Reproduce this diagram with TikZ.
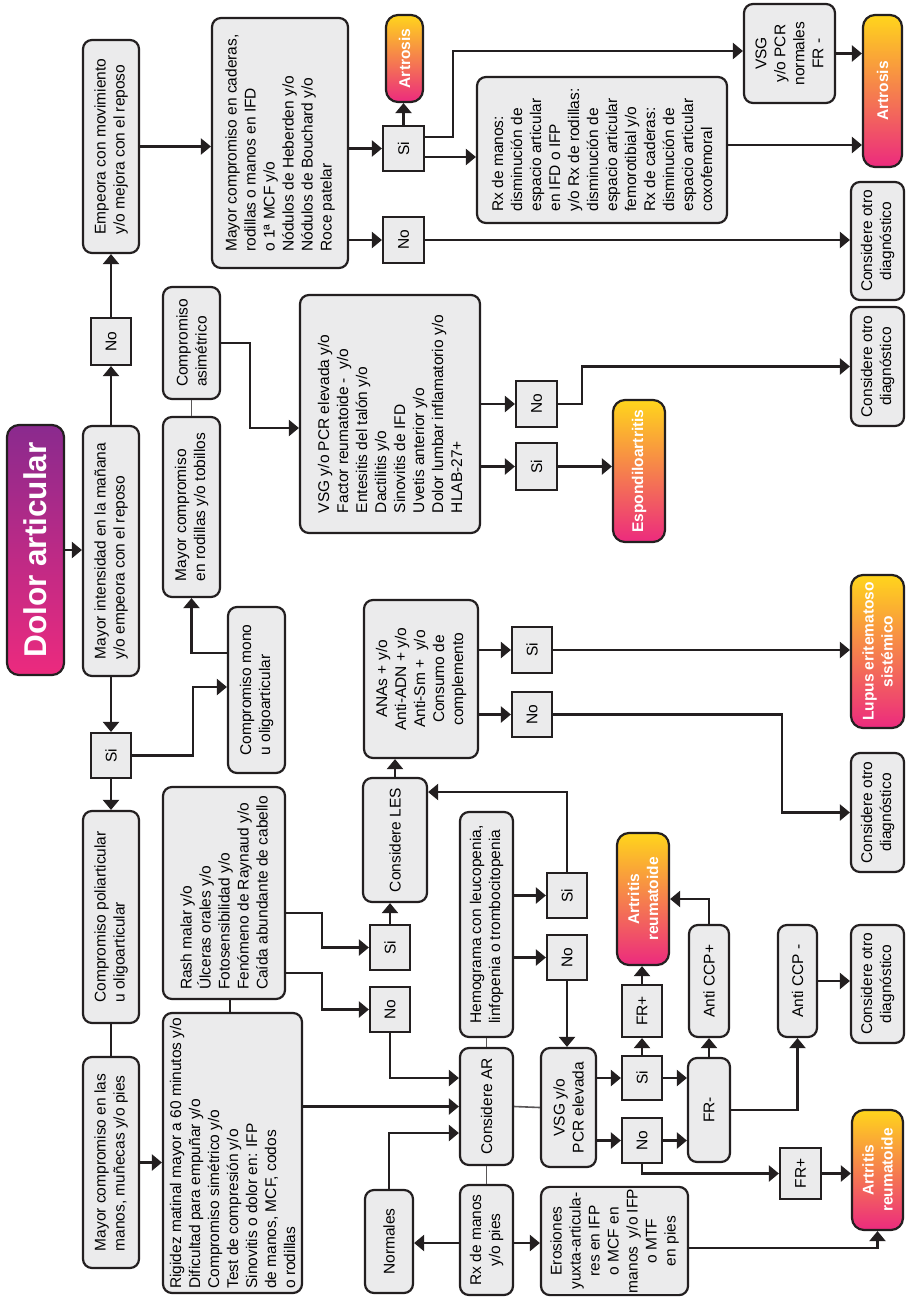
\documentclass[tikz,border=0pt]{standalone}
\usepackage{fontspec}
\setmainfont{Liberation Sans}
\usetikzlibrary{arrows.meta}
\definecolor{boxgray}{HTML}{EBEBEC}
\definecolor{ink}{HTML}{231F20}
\definecolor{dxyellow}{HTML}{FFD51C}
\definecolor{dxpink}{HTML}{EC2A7E}
\definecolor{dxpurple}{HTML}{8A2A8E}

\begin{document}
\begin{tikzpicture}[x=1pt, y=-1pt,
  font=\fontsize{15.5}{19}\selectfont,
  sz/.style 2 args={minimum width=#1pt, minimum height=#2pt},
  box/.style={draw=ink, line width=2.2pt, fill=boxgray, rounded corners=9pt, rotate=90, inner sep=2pt, align=left},
  yn/.style={draw=ink, line width=2.2pt, fill=boxgray, rotate=90, inner sep=1pt},
  dx/.style={draw=ink, line width=2.2pt, rounded corners=12pt, rotate=90, top color=dxyellow, bottom color=dxpink, text=white, font=\fontsize{15.5}{19}\bfseries, align=center, inner sep=1pt},
  arr/.style={draw=ink, line width=2.2pt, -{Triangle[length=10pt, width=16pt]}},
  link/.style={draw=ink!75, line width=1.6pt}]
  \useasboundingbox[fill=white] (0,0) rectangle (905,1297);

  % first column
  \node[dx, sz={250}{57}, top color=dxpurple, bottom color=dxpink, font=\fontsize{31.5}{35}\bfseries] (title) at (35.5,550) {Dolor articular};
  \node[box, sz={213}{56}] (empeora) at (111,146.5) {Empeora con movimiento\\y/o mejora con el reposo};
  \node[yn, sz={47}{40}] (no1) at (111,341.5) {No};
  \node[box, sz={250}{56}] (manana) at (111,551) {Mayor intensidad en la mañana\\y/o empeora con el reposo};
  \node[yn, sz={45}{40}] (si1) at (111,755.5) {Si};
  \node[box, sz={212}{56}] (poli) at (111,917) {Compromiso poliarticular\\u oligoarticular};
  \node[box, sz={211}{56}] (manos) at (111,1162.5) {Mayor compromiso en las\\manos, muñecas y/o pies};

  % second column
  \node[box, sz={112}{57}] (asim) at (191.5,343) {Compromiso\\asimétrico};
  \node[box, sz={180}{57}] (rodillas) at (191.5,507) {Mayor compromiso\\en rodillas y/o tobillos};
  \node[box, sz={166}{57}] (mono) at (256.5,690) {Compromiso mono\\u oligoarticular};
  \node[box, sz={212}{122}] (rash) at (224,893) {Rash malar y/o\\Úlceras orales y/o\\Fotosensibilidad y/o\\Fenómeno de Raynaud y/o\\Caída abundante de cabello};
  \node[box, sz={280}{139}] (rigidez) at (232.5,1153) {Rigidez matinal mayor a 60 minutos y/o\\Dificultad para empuñar y/o\\Compromiso simétrico y/o\\Test de compresión y/o\\Sinovitis o dolor en: IFP\\de manos, MCF, codos\\o rodillas};
  \node[box, sz={250}{136}] (caderas) at (280,143) {Mayor compromiso en caderas,\\rodillas o manos en IFD\\o 1ª MCF y/o\\Nódulos de Heberden y/o\\Nódulos de Bouchard y/o\\Roce patelar};

  % artrosis branch
  \node[yn, sz={45}{41}] (sib) at (403.5,148.5) {Si};
  \node[yn, sz={46}{41}] (nob) at (403.5,240) {No};
  \node[dx, sz={87}{37}] (artrosis1) at (404.5,58.5) {Artrosis};
  \node[box, sz={146}{250}] (rxmanos) at (602,150) {Rx de manos:\\disminución de\\espacio articular\\en IFD o IFP\\y/o Rx de rodillas:\\disminución de\\espacio articular\\femorotibial y/o\\Rx de caderas:\\disminución de\\espacio articular\\coxofemoral};
  \node[box, sz={99}{91}, align=center] (normales1) at (789.5,53.5) {VSG\\y/o PCR\\normales\\FR -};
  \node[dx, sz={152}{39}] (artrosis2) at (882.5,91) {Artrosis};
  \node[box, sz={118}{53}, align=center] (otro1) at (877.5,241) {Considere otro\\diagnóstico};

  % espondiloartritis branch
  \node[box, sz={238}{180}] (espa) at (390,414) {VSG y/o PCR elevada y/o\\Factor reumatoide -\ \ y/o\\Entesitis del talón y/o\\Dactilitis y/o\\Sinovitis de IFD\\Uvetis anterior y/o\\Dolor lumbar inflamatorio y/o\\HLAB-27+};
  \node[yn, sz={46}{41}] (noc) at (536.5,404) {No};
  \node[yn, sz={47}{41}] (sic) at (536.5,466.5) {Si};
  \node[box, sz={119}{53}, align=center] (otro2) at (877.5,366.5) {Considere otro\\diagnóstico};
  \node[dx, sz={142}{52}] (espondilo) at (639,471) {Espondiloartritis};

  % lupus branch
  \node[box, sz={158}{114}, align=center] (anas) at (421,679) {ANAs + y/o\\Anti-ADN + y/o\\Anti-Sm +\ \ y/o\\Consumo de\\complemento};
  \node[yn, sz={46}{40}] (sid) at (532,650) {Si};
  \node[yn, sz={45}{40}] (nod) at (532,714.5) {No};
  \node[dx, sz={153}{53}] (lupus) at (877.5,651.5) {Lupus eritematoso\\sistémico};
  \node[box, sz={119}{53}, align=center] (otro3) at (877.5,812.5) {Considere otro\\diagnóstico};
  \node[box, sz={124}{64}] (les) at (395,840) {Considere LES};
  \node[box, sz={225}{53}] (hemo) at (486.5,924.5) {Hemograma con leucopenia,\\linfopenia o trombocitopenia};
  \node[yn, sz={45}{40}] (sie) at (567,895.5) {Si};
  \node[yn, sz={45}{40}] (noe) at (567,957.5) {No};
  \node[yn, sz={45}{40}] (sif) at (390,947.5) {Si};
  \node[yn, sz={45}{40}] (nof) at (390,1009.5) {No};

  % artritis reumatoide branch
  \node[box, sz={117}{53}] (ar) at (486.5,1106.5) {Considere AR};
  \node[box, sz={119}{55}, align=center] (vsgpcr) at (568.5,1107.5) {VSG y/o\\PCR elevada};
  \node[box, sz={103}{48}] (normales) at (389,1241.5) {Normales};
  \node[box, sz={110}{53}, align=center] (rxpies) at (486.5,1240) {Rx de manos\\y/o pies};
  \node[box, sz={108}{147}, align=center] (erosiones) at (614.5,1241) {Erosiones\\yuxta-articula-\\res en IFP\\o MCF en\\manos\ \ y/o IFP\\o MTF\\en pies};
  \node[yn, sz={44}{40}] (sig) at (642,1078) {Si};
  \node[yn, sz={45}{40}] (nog) at (642,1140.5) {No};
  \node[box, sz={104}{42}] (frm) at (709,1110) {FR-};
  \node[yn, sz={52}{40}] (frp1) at (642,1011) {FR+};
  \node[dx, sz={132}{52}] (ar1) at (643,899) {Artritis\\reumatoide};
  \node[box, sz={112}{40}] (ccpp) at (709,981) {Anti CCP+};
  \node[box, sz={112}{39}] (ccpm) at (797.5,981) {Anti CCP -};
  \node[box, sz={118}{53}, align=center] (otro4) at (877.5,984) {Considere otro\\diagnóstico};
  \node[yn, sz={51}{41}] (frp2) at (800.5,1173.5) {FR+};
  \node[dx, sz={120}{51}] (ar2) at (877.5,1170) {Artritis\\reumatoide};

  % connectors
  \draw[arr] (title.south) -- (title.south -| manana.north);
  \draw[arr] (manana.east) -- (no1.west);
  \draw[arr] (no1.east) -- (empeora.west);
  \draw[arr] (manana.west) -- (si1.east);
  \draw[arr] (si1.west) -- (poli.east);
  \draw[link, ink, line width=2pt] (poli.west) -- (manos.east);
  \draw[arr] (manos.south) -- (manos.south -| rigidez.north);
  \draw[arr] (si1.south) -| (193,687) -- (mono.north |- 0,687);
  \draw[arr] (mono.north |- 0,653) -| (rodillas.west);
  \draw[link] (rodillas.east) -- (asim.west);
  \draw[arr] (asim.south) -| (250,428) -- (espa.north |- 0,428);
  \draw[link, ink, line width=2pt] (rash.west -| 230,0) -- (rigidez.east -| 230,0);

  \draw[arr] (empeora.south) -- (empeora.south -| caderas.north);
  \draw[arr] (sib.north -| caderas.south) -- (sib.north);
  \draw[arr] (nob.north -| caderas.south) -- (nob.north);
  \draw[arr] (sib.east) -- (sib.east |- artrosis1.west);
  \draw[arr] (sib.south |- 0,137) -| (453,51) -- (normales1.north |- 0,51);
  \draw[arr] (sib.south |- 0,157) -- (rxmanos.north |- 0,157);
  \draw[arr] (normales1.south) -- (normales1.south -| artrosis2.north);
  \draw[arr] (rxmanos.south |- 0,145) -- (artrosis2.north |- 0,145);
  \draw[arr] (nob.south) -- (nob.south -| otro1.north);

  \draw[arr] (noc.north -| espa.south) -- (noc.north);
  \draw[arr] (sic.north -| espa.south) -- (sic.north);
  \draw[arr] (noc.south) -| (582,366.5) -- (otro2.north);
  \draw[arr] (sic.south) -- (sic.south -| espondilo.north);

  \draw[arr] (sid.north -| anas.south) -- (sid.north);
  \draw[arr] (nod.north -| anas.south) -- (nod.north);
  \draw[arr] (sid.south) -- (sid.south -| lupus.north);
  \draw[arr] (nod.south) -| (782,812.5) -- (otro3.north);
  \draw[arr] (les.east) -- (les.east |- anas.west);
  \draw[arr] (sie.east) |- (les.south |- 0,792);
  \draw[arr] (sie.north -| hemo.south) -- (sie.north);
  \draw[arr] (noe.north -| hemo.south) -- (noe.north);
  \draw[arr] (noe.west) -- (noe.west |- vsgpcr.east);
  \draw[arr] (sif.east) -- (sif.east |- les.west);
  \draw[arr] (rash.south |- 0,913) -| (322,947.5) -- (sif.north);
  \draw[arr] (rash.south |- 0,973) -| (322,1009.5) -- (nof.north);

  \draw[arr] (nof.west) |- (ar.north |- 0,1078);
  \draw[arr] (rigidez.south |- ar.north) -- (ar.north);
  \draw[arr] (normales.east) |- (ar.north |- 0,1133);
  \draw[link] (ar.east) -- (hemo.west);
  \draw[link] (ar.south) -- (vsgpcr.north);
  \draw[link] (ar.west) -- (rxpies.east);
  \draw[arr] (rxpies.north |- 0,1243) -- (normales.south |- 0,1243);
  \draw[arr] (rxpies.south |- 0,1243) -- (erosiones.north |- 0,1243);
  \draw[arr] (erosiones.south |- 0,1248) -| (ar2.west);
  \draw[arr] (sig.north -| vsgpcr.south) -- (sig.north);
  \draw[arr] (nog.north -| vsgpcr.south) -- (nog.north);
  \draw[arr] (sig.south) -- (sig.south -| frm.north);
  \draw[arr] (nog.south) -- (nog.south -| frm.north);
  \draw[arr] (sig.east) -- (frp1.west);
  \draw[arr] (frp1.east) -- (frp1.east |- ar1.west);
  \draw[arr] (frm.east) -- (frm.east |- ccpp.west);
  \draw[arr] (ccpp.east) |- (ar1.south);
  \draw[arr] (frm.south) -| (ccpm.west);
  \draw[arr] (ccpm.south) -- (ccpm.south -| otro4.north);
  \draw[arr] (nog.west) |- (frp2.north);
  \draw[arr] (frp2.south) -- (frp2.south -| ar2.north);
\end{tikzpicture}
\end{document}
